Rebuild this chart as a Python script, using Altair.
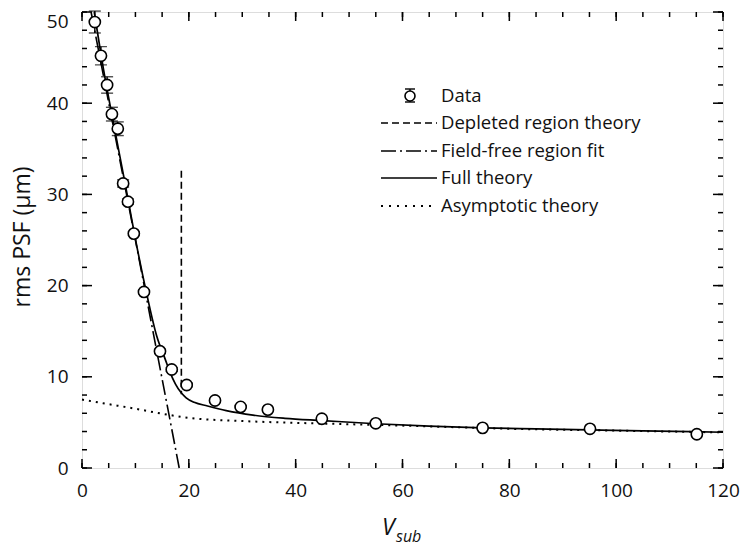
import altair as alt
import pandas as pd

# ---- data ----
V = [2.4, 3.55, 4.7, 5.6, 6.7, 7.7, 8.6, 9.7, 11.6, 14.6, 16.8, 19.6, 24.9, 29.7, 34.8, 44.9, 55.0, 75.0, 95.1, 115.1]
psf = [48.9, 45.2, 42.0, 38.8, 37.2, 31.2, 29.2, 25.7, 19.3, 12.8, 10.8, 9.1, 7.4, 6.7, 6.4, 5.4, 4.9, 4.4, 4.3, 3.7]
err = [1.2, 1.0, 0.9, 0.75, 0.75, 0.4, 0.3, 0.2, 0.2, 0.2, 0.2, 0.2, 0.1, 0.1, 0.1, 0.1, 0.1, 0.1, 0.1, 0.1]

full_x = [2.3, 4.0, 6.0, 8.0, 10.0, 12.0, 14.0, 15.5, 16.5, 17.5, 18.5, 19.5, 21.0, 23.5, 27.0, 32.0, 38.0, 45.0, 55.0, 65.0, 75.0, 85.0, 95.0, 105.0, 120.0]
full_y = [50.0, 43.8, 37.5, 31.4, 25.1, 19.4, 14.45, 12.05, 10.45, 9.2, 8.3, 7.7, 7.2, 6.8, 6.3, 5.8, 5.45, 5.2, 4.85, 4.6, 4.4, 4.28, 4.18, 4.08, 3.92]

asym_x = [0, 5, 10, 15, 20, 30, 40, 50, 60, 80, 100, 120]
asym_y = [7.5, 7.0, 6.5, 5.95, 5.5, 5.15, 4.95, 4.8, 4.65, 4.3, 4.1, 3.9]

ff_x = [1.7, 10.0, 18.2]
ff_y = [50.0, 25.0, 0.0]

dep_x = [18.6, 18.6]
dep_y = [32.6, 8.1]

x_major = [0, 20, 40, 60, 80, 100, 120]
x_minor = [v for v in range(0, 121, 5)]
y_major = [0, 10, 20, 30, 40, 50]
y_minor = [v for v in range(0, 51, 2)]

legend_labels = ["Data", "Depleted region theory", "Field-free region fit", "Full theory", "Asymptotic theory"]

# ---- layout ----
W, H = 641, 456
FONT = "Open Sans"

xs = alt.Scale(domain=[0, 120], nice=False, zero=False)
ys = alt.Scale(domain=[0, 50], nice=False, zero=False)

xaxis = alt.Axis(values=x_major, ticks=False, tickSize=0, domain=False, grid=False, labelFlush=False,
                 labelFont=FONT, labelFontSize=19, labelColor="#111", labelPadding=13,
                 title=None)
yaxis = alt.Axis(values=y_major, ticks=False, tickSize=0, domain=False, grid=False, labelFlush=False,
                 labelBaseline={"condition": {"test": "datum.value == 50", "value": "top"}, "value": "middle"},
                 labelFont=FONT, labelFontSize=19, labelColor="#111", labelPadding=14,
                 title=None)

X = alt.X("x:Q", scale=xs, axis=xaxis)
Y = alt.Y("y:Q", scale=ys, axis=yaxis)

pts = pd.DataFrame({"x": V, "y": psf, "e": err})
pts["lo"] = pts["y"] - pts["e"]
pts["hi"] = pts["y"] + pts["e"]

full_df = pd.DataFrame({"x": full_x, "y": full_y})
asym_df = pd.DataFrame({"x": asym_x, "y": asym_y})
ff_df = pd.DataFrame({"x": ff_x, "y": ff_y})
dep_df = pd.DataFrame({"x": dep_x, "y": dep_y})

layers = []

# curves
layers.append(alt.Chart(asym_df).mark_line(color="black", strokeWidth=2, strokeDash=[2, 5], interpolate="monotone").encode(x=X, y=Y))
layers.append(alt.Chart(ff_df).mark_line(color="black", strokeWidth=1.6, strokeDash=[15, 4, 2, 4]).encode(x=X, y=Y))
layers.append(alt.Chart(dep_df).mark_line(color="black", strokeWidth=1.6, strokeDash=[7, 4]).encode(x=X, y=Y))
layers.append(alt.Chart(full_df).mark_line(color="black", strokeWidth=1.7, interpolate="monotone").encode(x=X, y=Y))

# error bars
layers.append(alt.Chart(pts).mark_rule(color="black", strokeWidth=1.4).encode(x=X, y=alt.Y("lo:Q", scale=ys, axis=yaxis), y2="hi:Q"))
layers.append(alt.Chart(pts).mark_tick(color="black", thickness=1.4, size=12, orient="horizontal").encode(x=X, y=alt.Y("lo:Q", scale=ys, axis=yaxis)))
layers.append(alt.Chart(pts).mark_tick(color="black", thickness=1.4, size=12, orient="horizontal").encode(x=X, y=alt.Y("hi:Q", scale=ys, axis=yaxis)))

# points
layers.append(alt.Chart(pts).mark_point(shape="circle", filled=False, fill="white", fillOpacity=1,
                                        color="black", strokeWidth=1.6, size=125, opacity=1).encode(x=X, y=Y))

# inward ticks
xmaj = pd.DataFrame({"x": x_major})
xmin = pd.DataFrame({"x": x_minor})
ymaj = pd.DataFrame({"y": y_major})
ymin = pd.DataFrame({"y": y_minor})
for df, ln in ((xmin, 5), (xmaj, 9)):
    layers.append(alt.Chart(df).mark_rule(color="black", strokeWidth=1.5).encode(x=X, y=alt.value(H), y2=alt.value(H - ln)))
    layers.append(alt.Chart(df).mark_rule(color="black", strokeWidth=1.5).encode(x=X, y=alt.value(0), y2=alt.value(ln)))
for df, ln in ((ymin, 5), (ymaj, 10)):
    layers.append(alt.Chart(df).mark_rule(color="black", strokeWidth=1.5).encode(y=Y, x=alt.value(0), x2=alt.value(ln)))
    layers.append(alt.Chart(df).mark_rule(color="black", strokeWidth=1.5).encode(y=Y, x=alt.value(W), x2=alt.value(W - ln)))

# legend
one = alt.Data(values=[{}])
lx0, lx1, ltx = 299, 355, 359
rows = [84, 111, 139, 166, 194]
sym_x = 328
layers.append(alt.Chart(one).mark_rule(color="black", strokeWidth=1.4).encode(x=alt.value(sym_x), y=alt.value(rows[0] - 7), y2=alt.value(rows[0] + 6)))
layers.append(alt.Chart(one).mark_rule(color="black", strokeWidth=1.4).encode(x=alt.value(sym_x - 5), x2=alt.value(sym_x + 5), y=alt.value(rows[0] - 7)))
layers.append(alt.Chart(one).mark_rule(color="black", strokeWidth=1.4).encode(x=alt.value(sym_x - 5), x2=alt.value(sym_x + 5), y=alt.value(rows[0] + 6)))
layers.append(alt.Chart(one).mark_point(shape="circle", filled=False, fill="white", fillOpacity=1, color="black",
                                        strokeWidth=1.6, size=100, opacity=1).encode(x=alt.value(sym_x), y=alt.value(rows[0])))
dashes = [[7, 4], [15, 4, 2, 4], None, [2, 6]]
for i, d in enumerate(dashes):
    kw = {"strokeDash": d} if d else {}
    layers.append(alt.Chart(one).mark_rule(color="black", strokeWidth=1.7 if d != [2, 6] else 2, **kw).encode(
        x=alt.value(lx0), x2=alt.value(lx1), y=alt.value(rows[i + 1])))
for i, lab in enumerate(legend_labels):
    layers.append(alt.Chart(one).mark_text(text=lab, align="left", baseline="middle", font=FONT, fontSize=18.5,
                                           color="#111").encode(x=alt.value(ltx), y=alt.value(rows[i])))

# axis titles
layers.append(alt.Chart(one).mark_text(text="rms PSF (μm)", angle=270, align="center", baseline="middle",
                                       font=FONT, fontSize=23, color="#111").encode(x=alt.value(-59), y=alt.value(225)))
layers.append(alt.Chart(one).mark_text(text="V", align="left", baseline="alphabetic", font=FONT, fontSize=23,
                                       fontStyle="italic", color="#111").encode(x=alt.value(300), y=alt.value(523)))
layers.append(alt.Chart(one).mark_text(text="sub", align="left", baseline="alphabetic", font=FONT, fontSize=16,
                                       fontStyle="italic", color="#111").encode(x=alt.value(314), y=alt.value(530)))

chart = alt.layer(*layers).properties(
    width=W, height=H,
    autosize=alt.AutoSizeParams(type="none"),
    padding={"left": 82, "top": 12, "right": 18, "bottom": 82},
).configure_view(stroke="black", strokeWidth=2).configure(background="white")

chart.save("out.html", embed_options={"renderer": "svg", "actions": False})
